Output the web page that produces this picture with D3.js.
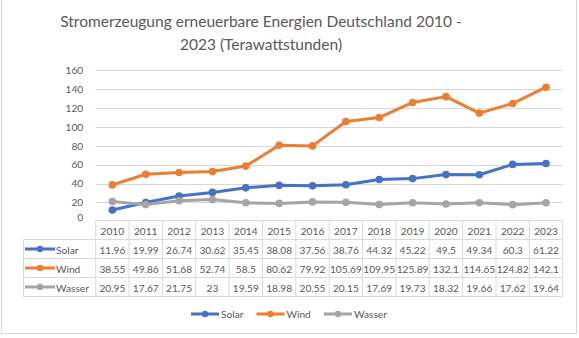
<!DOCTYPE html>
<html><head><meta charset="utf-8">
<script src="https://cdn.jsdelivr.net/npm/d3@7"></script>
<style>body{margin:0;background:#fff}svg{display:block}text{font-family:Lato,"Open Sans",sans-serif}</style>
</head><body>
<svg id="c" width="579" height="338"></svg>
<script>
const years = ["2010","2011","2012","2013","2014","2015","2016","2017","2018","2019","2020","2021","2022","2023"];
const solar = [11.96,19.99,26.74,30.62,35.45,38.08,37.56,38.76,44.32,45.22,49.5,49.34,60.3,61.22];
const wind = [38.55,49.86,51.68,52.74,58.5,80.62,79.92,105.69,109.95,125.89,132.1,114.65,124.82,142.1];
const wasser = [20.95,17.67,21.75,23,19.59,18.98,20.55,20.15,17.69,19.73,18.32,19.66,17.62,19.64];
const seriesNames = ["Solar","Wind","Wasser"];
const yTicks = [0,20,40,60,80,100,120,140,160];
const titleLines = ["Stromerzeugung erneuerbare Energien Deutschland 2010 -","2023 (Terawattstunden)"];

const series = [
  {name:seriesNames[0], values:solar, color:"#4472C4"},
  {name:seriesNames[1], values:wind, color:"#ED7D31"},
  {name:seriesNames[2], values:wasser, color:"#A5A5A5"}
];

const svg = d3.select("#c");
const grid = "#d9d9d9", txt = "#595959";

// measure helper to emulate Calibri widths with Lato
const probe = svg.append("text").attr("font-size",20).text("11.96");
const fs = 20*26/probe.node().getComputedTextLength();
probe.attr("font-size",20).text(titleLines[0]);
const tfs = 20*402/probe.node().getComputedTextLength();
probe.remove();

// outer border
svg.append("rect").attr("x",1.5).attr("y",-2).attr("width",575).attr("height",335.5)
  .attr("fill","none").attr("stroke","#d9d9d9");

// title
svg.append("g").selectAll("text").data(titleLines).join("text")
  .attr("x",261).attr("y",(d,i)=>26.5+i*23).attr("text-anchor","middle")
  .attr("font-size",tfs).attr("fill","#595959").text(d=>d);

const x = d3.scaleBand().domain(years).range([95.7,562.7]).padding(0);
const y = d3.scaleLinear().domain([0,160]).range([221.3,70.3]);

// gridlines
svg.append("g").selectAll("line").data(yTicks.filter(t=>t>0)).join("line")
  .attr("x1",95.7).attr("x2",562.7).attr("y1",d=>Math.round(y(d))+0.5).attr("y2",d=>Math.round(y(d))+0.5)
  .attr("stroke",grid).attr("stroke-width",1);

// y axis labels
const yAxis = d3.axisLeft(y).tickValues(yTicks).tickSize(0).tickPadding(12.5);
const ga = svg.append("g").attr("transform","translate(95.7,0)").call(yAxis);
ga.select(".domain").remove();
ga.selectAll("text").attr("font-size",fs).attr("fill",txt).attr("font-family","Lato");
ga.selectAll(".tick").filter(d=>d===0).select("text").attr("dy","-0.1em");

// lines
const line = d3.line().x((d,i)=>x(years[i])+x.bandwidth()/2).y(d=>y(d));
series.forEach(s=>{
  svg.append("path").datum(s.values).attr("d",line).attr("fill","none")
    .attr("stroke",s.color).attr("stroke-width",3).attr("stroke-linejoin","round");
  svg.append("g").selectAll("circle").data(s.values).join("circle")
    .attr("cx",(d,i)=>x(years[i])+x.bandwidth()/2).attr("cy",d=>y(d)).attr("r",3.8).attr("fill",s.color);
});

// data table
const rowTop = [220.5,239.5,258.5,277.5,296.5];
const tg = svg.append("g");
const tl = (x1,y1,x2,y2)=>tg.append("line").attr("x1",x1).attr("y1",y1).attr("x2",x2).attr("y2",y2).attr("stroke",grid).attr("stroke-width",1);
tl(95.7,rowTop[0],562.7,rowTop[0]);
for(let r=1;r<rowTop.length;r++) tl(23.5,rowTop[r],562.7,rowTop[r]);
tl(23.5,rowTop[1],23.5,rowTop[4]);
years.forEach((yr,i)=>tl(x(yr),rowTop[0],x(yr),rowTop[4]));
tl(562.7,rowTop[0],562.7,rowTop[4]);

tg.selectAll("text.yr").data(years).join("text").attr("class","yr")
  .attr("x",d=>x(d)+x.bandwidth()/2).attr("y",rowTop[0]+14).attr("text-anchor","middle")
  .attr("font-size",fs).attr("fill",txt).text(d=>d);

series.forEach((s,r)=>{
  const yy = rowTop[r+1];
  tg.append("line").attr("x1",25).attr("x2",55).attr("y1",yy+9.5).attr("y2",yy+9.5).attr("stroke",s.color).attr("stroke-width",3);
  tg.append("circle").attr("cx",40).attr("cy",yy+9.5).attr("r",3.2).attr("fill",s.color);
  tg.append("text").attr("x",56).attr("y",yy+14).attr("font-size",fs).attr("fill",txt).text(s.name);
  tg.selectAll(null).data(s.values).join("text")
    .attr("x",(d,i)=>x(years[i])+x.bandwidth()/2).attr("y",yy+14).attr("text-anchor","middle")
    .attr("font-size",fs).attr("fill",txt).text(d=>String(d));
});

// legend
const legX = [191,256.5,324];
const lg = svg.append("g");
series.forEach((s,i)=>{
  lg.append("line").attr("x1",legX[i]).attr("x2",legX[i]+28).attr("y1",314).attr("y2",314).attr("stroke",s.color).attr("stroke-width",3);
  lg.append("circle").attr("cx",legX[i]+14).attr("cy",314).attr("r",3.2).attr("fill",s.color);
  lg.append("text").attr("x",legX[i]+30).attr("y",318).attr("font-size",fs).attr("fill",txt).text(s.name);
});
</script>
</body></html>
